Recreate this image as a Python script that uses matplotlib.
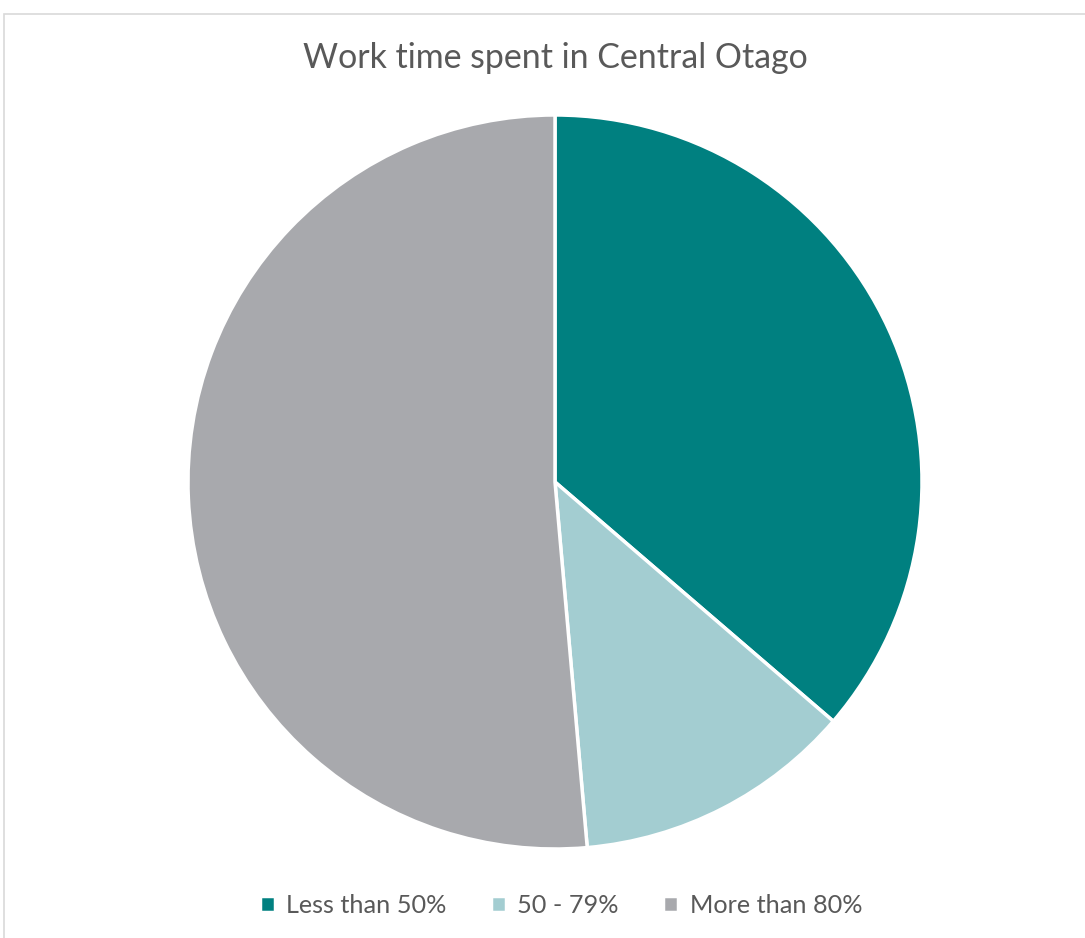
import matplotlib.pyplot as plt
from matplotlib.patches import Rectangle

# share of respondents (%) by work time spent in the region
categories = ["Less than 50%", "50 - 79%", "More than 80%"]
shares = [36.3, 12.3, 51.4]
colors = ["#008080", "#A3CDD1", "#A8A9AD"]

W, H = 1085, 938
fig = plt.figure(figsize=(W / 100, H / 100), dpi=100)
plt.rcParams["font.family"] = ["Lato", "DejaVu Sans"]

# chart area outline (runs off the right and bottom edges)
fig.patches.append(Rectangle((4 / W, -0.2), 1.2, 1.2 - 14 / H, transform=fig.transFigure,
                             fill=False, edgecolor="#d9d9d9", linewidth=1.2))

cx, cy, r = 555, 482, 367
ax = fig.add_axes([(cx - r) / W, (H - cy - r) / H, 2 * r / W, 2 * r / H])
wedges, _ = ax.pie(shares, colors=colors, startangle=90, counterclock=False,
                   radius=1, wedgeprops=dict(edgecolor="white", linewidth=2.5))
ax.set_xlim(-1, 1)
ax.set_ylim(-1, 1)
ax.axis("off")

fig.text(555 / W, 1 - 58 / H, "Work time spent in Central Otago", ha="center", va="center",
         fontsize=24.4, color="#595959")

fig.legend(wedges, categories, loc="center", bbox_to_anchor=(561 / W, 1 - 905 / H),
           ncol=3, frameon=False, fontsize=18.2, labelcolor="#595959",
           handlelength=0.6, handleheight=0.6, handletextpad=0.45, columnspacing=1.75)

fig.savefig("out.png", dpi=100)
